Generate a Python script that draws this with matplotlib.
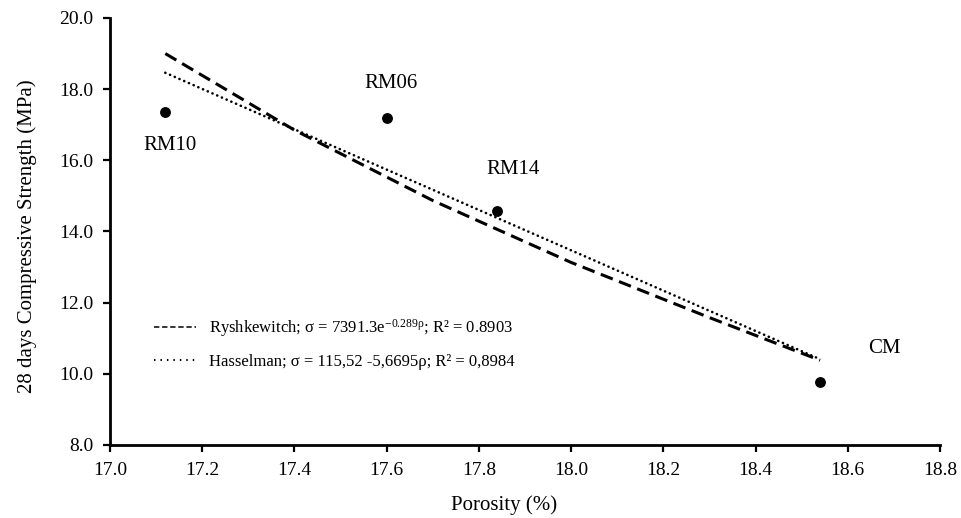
import matplotlib
matplotlib.use('Agg')
import matplotlib.pyplot as plt
from matplotlib.lines import Line2D

plt.rcParams['font.family'] = ['Liberation Serif', 'DejaVu Serif']
plt.rcParams['mathtext.fontset'] = 'custom'
plt.rcParams['mathtext.rm'] = 'Liberation Serif'
plt.rcParams['mathtext.it'] = 'Liberation Serif:italic'

# measured samples
names = ['RM10', 'RM06', 'RM14', 'CM']
porosity = [17.12, 17.60, 17.84, 18.54]
strength = [17.35, 17.20, 14.57, 9.78]

# label positions (data coords)
label_x = [17.13, 17.61, 17.875, 18.68]
label_y = [16.42, 18.15, 15.75, 10.70]

# trendlines as drawn
rysh_x = [17.12, 17.40, 17.70, 18.00, 18.30, 18.54]
rysh_y = [19.00, 16.85, 14.87, 13.13, 11.58, 10.38]
hass_x = [17.12, 18.54]
hass_y = [18.46, 10.41]

fig = plt.figure(figsize=(9.62, 5.18), dpi=100)
ax = fig.add_axes([0.1143, 0.141, 0.8628, 0.8243])

ax.plot(rysh_x, rysh_y, color='black', lw=2.2, dashes=(4.2, 2.2))
ax.plot(hass_x, hass_y, color='black', lw=1.9, linestyle=(0, (0.05, 1.9)),
	dash_capstyle='round')
ax.plot(porosity, strength, 'o', color='black', markersize=6.8)

for i in range(len(names)):
	ax.text(label_x[i], label_y[i], names[i], ha='center', va='center', fontsize=15)

# legend keys are small, like the original
h1 = Line2D([], [], color='black', lw=1.1, dashes=(3.5, 1.8))
h2 = Line2D([], [], color='black', lw=1.5, linestyle=(0, (0.7, 2.4)))
ax.legend([h1, h2],
	[r'Ryshkewitch; σ = 7391.3e$^{\mathregular{-0.289ρ}}$; R² = 0.8903',
	 'Hasselman; σ = 115,52 -5,6695ρ; R² = 0,8984'],
	loc='lower left', bbox_to_anchor=(0.035, 0.14), frameon=False,
	fontsize=12, handlelength=2.5, handletextpad=0.8, labelspacing=0.9)

ax.set_xlim(17.0, 18.8)
ax.set_ylim(8.0, 20.0)
ax.set_xticks([17.0 + 0.2 * i for i in range(10)])
ax.set_yticks([8.0 + 2.0 * i for i in range(7)])
ax.xaxis.set_major_formatter(matplotlib.ticker.FormatStrFormatter('%.1f'))
ax.yaxis.set_major_formatter(matplotlib.ticker.FormatStrFormatter('%.1f'))
ax.tick_params(direction='out', length=5, width=1.6, labelsize=14, pad=7)
ax.spines['top'].set_visible(False)
ax.spines['right'].set_visible(False)
ax.spines['left'].set_linewidth(2.0)
ax.spines['bottom'].set_linewidth(2.0)

ax.set_xlabel('Porosity (%)', fontsize=15)
ax.set_ylabel('28 days Compressive Strength (MPa)', fontsize=15)
ax.xaxis.set_label_coords(0.475, -0.118)
ax.yaxis.set_label_coords(-0.088, 0.49)

fig.savefig('out.png', dpi=100)
